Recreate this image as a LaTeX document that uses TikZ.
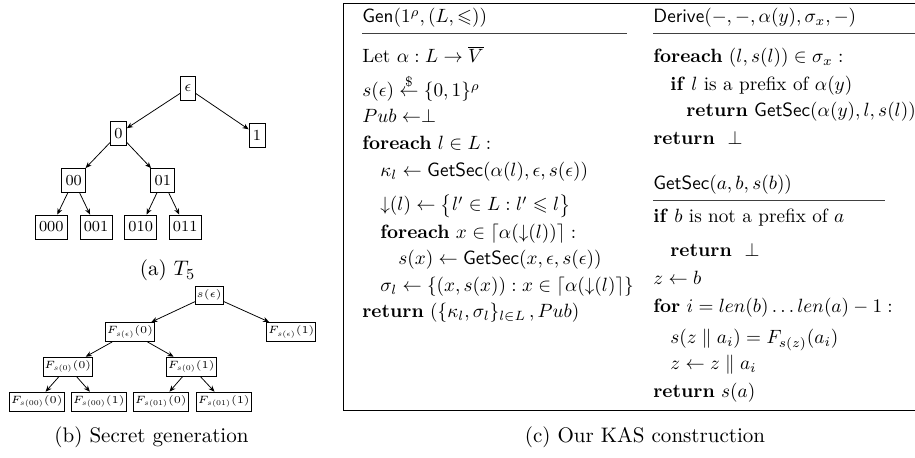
\RequirePackage{fix-cm}
\documentclass[tikz,border=0pt]{standalone}
\usepackage{amsmath,amssymb}
\usepackage{fontspec}
\usetikzlibrary{arrows.meta}
\begin{document}
\begin{tikzpicture}[x=0.5208pt,y=-0.5208pt,
  tnode/.style={draw, line width=0.4pt, font=\fontsize{8}{9.6}\selectfont, inner xsep=2pt, inner ysep=0pt, minimum height=12.5pt},
  bnode/.style={draw, line width=0.4pt, font=\fontsize{5.5}{6.6}\selectfont, inner xsep=0.7pt, inner ysep=1.9pt},
  arr/.style={-{Stealth[length=3.2pt,width=2.6pt]}, line width=0.4pt},
  txt/.style={anchor=base west, inner sep=0pt, font=\fontsize{10}{12}\selectfont},
  captext/.style={anchor=base, inner sep=0pt, font=\fontsize{10.95}{13.6}\selectfont},
  rulel/.style={line width=0.5pt, black!75}]
\useasboundingbox (0,0) rectangle (915,458);
\clip (0,0) rectangle (915,458);

% ---------- (a) tree T_5 ----------
\node[tnode] (eps)  at (188,88.2)  {$\epsilon$};
\node[tnode] (n0)   at (118.5,133.7) {0};
\node[tnode] (n1)   at (257,135)   {1};
\node[tnode] (n00)  at (73.7,180.5) {00};
\node[tnode] (n01)  at (162.8,180.5) {01};
\node[tnode] (n000) at (51.3,227) {000};
\node[tnode] (n001) at (96,227) {001};
\node[tnode] (n010) at (140.7,227) {010};
\node[tnode] (n011) at (185.2,227) {011};
\draw[arr] (eps) -- (n0);
\draw[arr] (eps) -- (n1);
\draw[arr] (n0) -- (n00);
\draw[arr] (n0) -- (n01);
\draw[arr] (n00) -- (n000);
\draw[arr] (n00) -- (n001);
\draw[arr] (n01) -- (n010);
\draw[arr] (n01) -- (n011);
\node[captext] (capa) at (167.5,276) {(a) $T_5$};

% ---------- (b) secret generation ----------
\node[bnode] (se)   at (209.2,295) {$s(\epsilon)$};
\node[bnode] (f0)   at (130,332)   {$F_{s(\epsilon)}(0)$};
\node[bnode] (f1)   at (291.3,332) {$F_{s(\epsilon)}(1)$};
\node[bnode] (f00)  at (67.8,366.7) {$F_{s(0)}(0)$};
\node[bnode] (f01)  at (191.2,366.7) {$F_{s(0)}(1)$};
\node[bnode] (f000) at (36.7,401.7) {$F_{s(00)}(0)$};
\node[bnode] (f001) at (98.7,401.7) {$F_{s(00)}(1)$};
\node[bnode] (f010) at (160.8,401.7) {$F_{s(01)}(0)$};
\node[bnode] (f011) at (223.8,401.7) {$F_{s(01)}(1)$};
\draw[arr] (se) -- (f0);
\draw[arr] (se) -- (f1);
\draw[arr] (f0) -- (f00);
\draw[arr] (f0) -- (f01);
\draw[arr] (f00) -- (f000);
\draw[arr] (f00) -- (f001);
\draw[arr] (f01) -- (f010);
\draw[arr] (f01) -- (f011);
\node[captext] (capb) at (151.5,443) {(b) Secret generation};

% ---------- (c) algorithm box ----------
\draw[line width=0.5pt] (960,3) -- (343,3) -- (343,410) -- (960,410);

% left column
\node[txt] (g1)  at (362,23)  {\textsf{Gen}$(1^\rho,(L,\leqslant))$};
\draw[rulel] (362,33.5) -- (627,33.5);
\node[txt] (g2)  at (362,63)  {Let $\alpha : L \to \overline{V}$};
\node[txt] (g3)  at (362,97)  {$s(\epsilon) \overset{\$}{\leftarrow} \{0,1\}^\rho$};
\node[txt] (g4)  at (362,123) {$Pub \leftarrow \perp$};
\node[txt] (g5)  at (362,150) {\textbf{foreach} $l \in L:$};
\node[txt] (g6)  at (380,177) {$\kappa_l \leftarrow \textsf{GetSec}(\alpha(l),\epsilon,s(\epsilon))$};
\node[txt] (g7)  at (380,211) {$\mathord{\downarrow}(l) \leftarrow \bigl\{l' \in L : l' \leqslant l\bigr\}$};
\node[txt] (g8)  at (380,239) {\textbf{foreach} $x \in \lceil\alpha(\mathord{\downarrow}(l))\rceil:$};
\node[txt] (g9)  at (398,265) {$s(x) \leftarrow \textsf{GetSec}(x,\epsilon,s(\epsilon))$};
\node[txt] (g10) at (380,291.5) {$\sigma_l \leftarrow \{(x,s(x)) : x \in \lceil\alpha(\mathord{\downarrow}(l)\rceil\}$};
\node[txt] (g11) at (362,318) {\textbf{return} $(\{\kappa_l,\sigma_l\}_{l\in L}\,,Pub)$};

% right column
\node[txt] (d1)  at (653,23)  {\textsf{Derive}$(-,-,\alpha(y),\sigma_x,-)$};
\draw[rulel] (653,33.5) -- (960,33.5);
\node[txt] (d2)  at (653,63)  {\textbf{foreach} $(l,s(l)) \in \sigma_x :$};
\node[txt] (d3)  at (670,90.5) {\textbf{if} $l$ is a prefix of $\alpha(y)$};
\node[txt] (d4)  at (686,117) {\textbf{return} \textsf{GetSec}$(\alpha(y),l,s(l))$};
\node[txt] (d5)  at (653,145) {\textbf{return} \ $\perp$};

\node[txt] (s1)  at (653,190) {\textsf{GetSec}$(a,b,s(b))$};
\draw[rulel] (653,200.5) -- (885,200.5);
\node[txt] (s2)  at (653,223) {\textbf{if} $b$ is not a prefix of $a$};
\node[txt] (s3)  at (670,257) {\textbf{return} \ $\perp$};
\node[txt] (s4)  at (653,285) {$z \leftarrow b$};
\node[txt] (s5)  at (653,313) {\textbf{for} $i = len(b)\ldots len(a)-1:$};
\node[txt] (s6)  at (670,344) {$s(z \parallel a_i) = F_{s(z)}(a_i)$};
\node[txt] (s7)  at (670,370) {$z \leftarrow z \parallel a_i$};
\node[txt] (s8)  at (653,398) {\textbf{return} $s(a)$};

\node[captext] (capc) at (645,443) {(c) Our KAS construction};
\end{tikzpicture}
\end{document}
